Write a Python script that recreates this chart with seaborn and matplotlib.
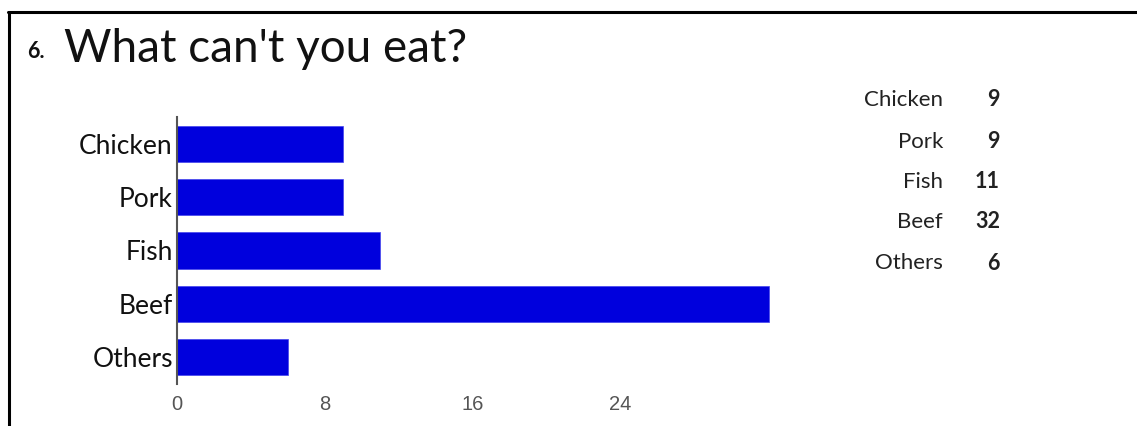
import matplotlib
matplotlib.use("Agg")
import matplotlib.pyplot as plt
import seaborn as sns
import pandas as pd
from matplotlib.lines import Line2D

categories = ["Chicken", "Pork", "Fish", "Beef", "Others"]
counts = [9, 9, 11, 32, 6]
x_ticks = [0, 8, 16, 24]
title_num = "6."
title_text = "What can't you eat?"

df = pd.DataFrame({"category": categories, "count": counts})

sns.set_theme(style="white")
plt.rcParams["font.family"] = ["Lato", "DejaVu Sans"]

fig = plt.figure(figsize=(11.37, 4.26), dpi=100)
W, H = 1137, 426

def ax_rect(x0, y0, x1, y1):
    return [x0 / W, 1 - y1 / H, (x1 - x0) / W, (y1 - y0) / H]

ax = fig.add_axes(ax_rect(177, 117, 787, 384))
sns.barplot(data=df, y="category", x="count", orient="h", color="#0000dd",
            saturation=1, width=0.68, ax=ax, edgecolor="#4444ee", linewidth=0.5)
ax.set_xlim(0, 33)
ax.set_ylim(4.5, -0.5)
ax.set_xticks(x_ticks)
ax.set_xticklabels([str(t) for t in x_ticks], fontsize=14.5,
                   color="#555555", family=["Liberation Sans", "DejaVu Sans"])
ax.tick_params(axis="x", length=0, pad=8)
ax.tick_params(axis="y", length=0, pad=3, labelsize=19, labelcolor="#111111")
ax.set_xlabel("")
ax.set_ylabel("")
for s in ["top", "right", "bottom"]:
    ax.spines[s].set_visible(False)
ax.spines["left"].set_color("#555555")
ax.spines["left"].set_linewidth(1.5)

# Title
fig.text(27 / W, 1 - 51 / H, title_num, fontsize=15.5, fontweight="bold",
         color="#111111", va="center", ha="left")
fig.text(64 / W, 1 - 49 / H, title_text, fontsize=33, color="#111111",
         va="center", ha="left")

# Right side table
row_y = [100, 142, 182, 222, 263]
for cat, val, y in zip(categories, counts, row_y):
    fig.text(943 / W, 1 - y / H, cat, fontsize=16, color="#222222",
             ha="right", va="center")
    fig.text(1000 / W, 1 - y / H, str(val), fontsize=15.5, fontweight="bold",
             color="#222222", ha="right", va="center")

# Frame lines (top and left)
fig.add_artist(Line2D([8 / W, 1], [1 - 12 / H, 1 - 12 / H], color="black",
                      linewidth=2.2, transform=fig.transFigure))
fig.add_artist(Line2D([9 / W, 9 / W], [0, 1 - 12 / H], color="black",
                      linewidth=2.2, transform=fig.transFigure))

fig.savefig("out.png", dpi=100, facecolor="white")
